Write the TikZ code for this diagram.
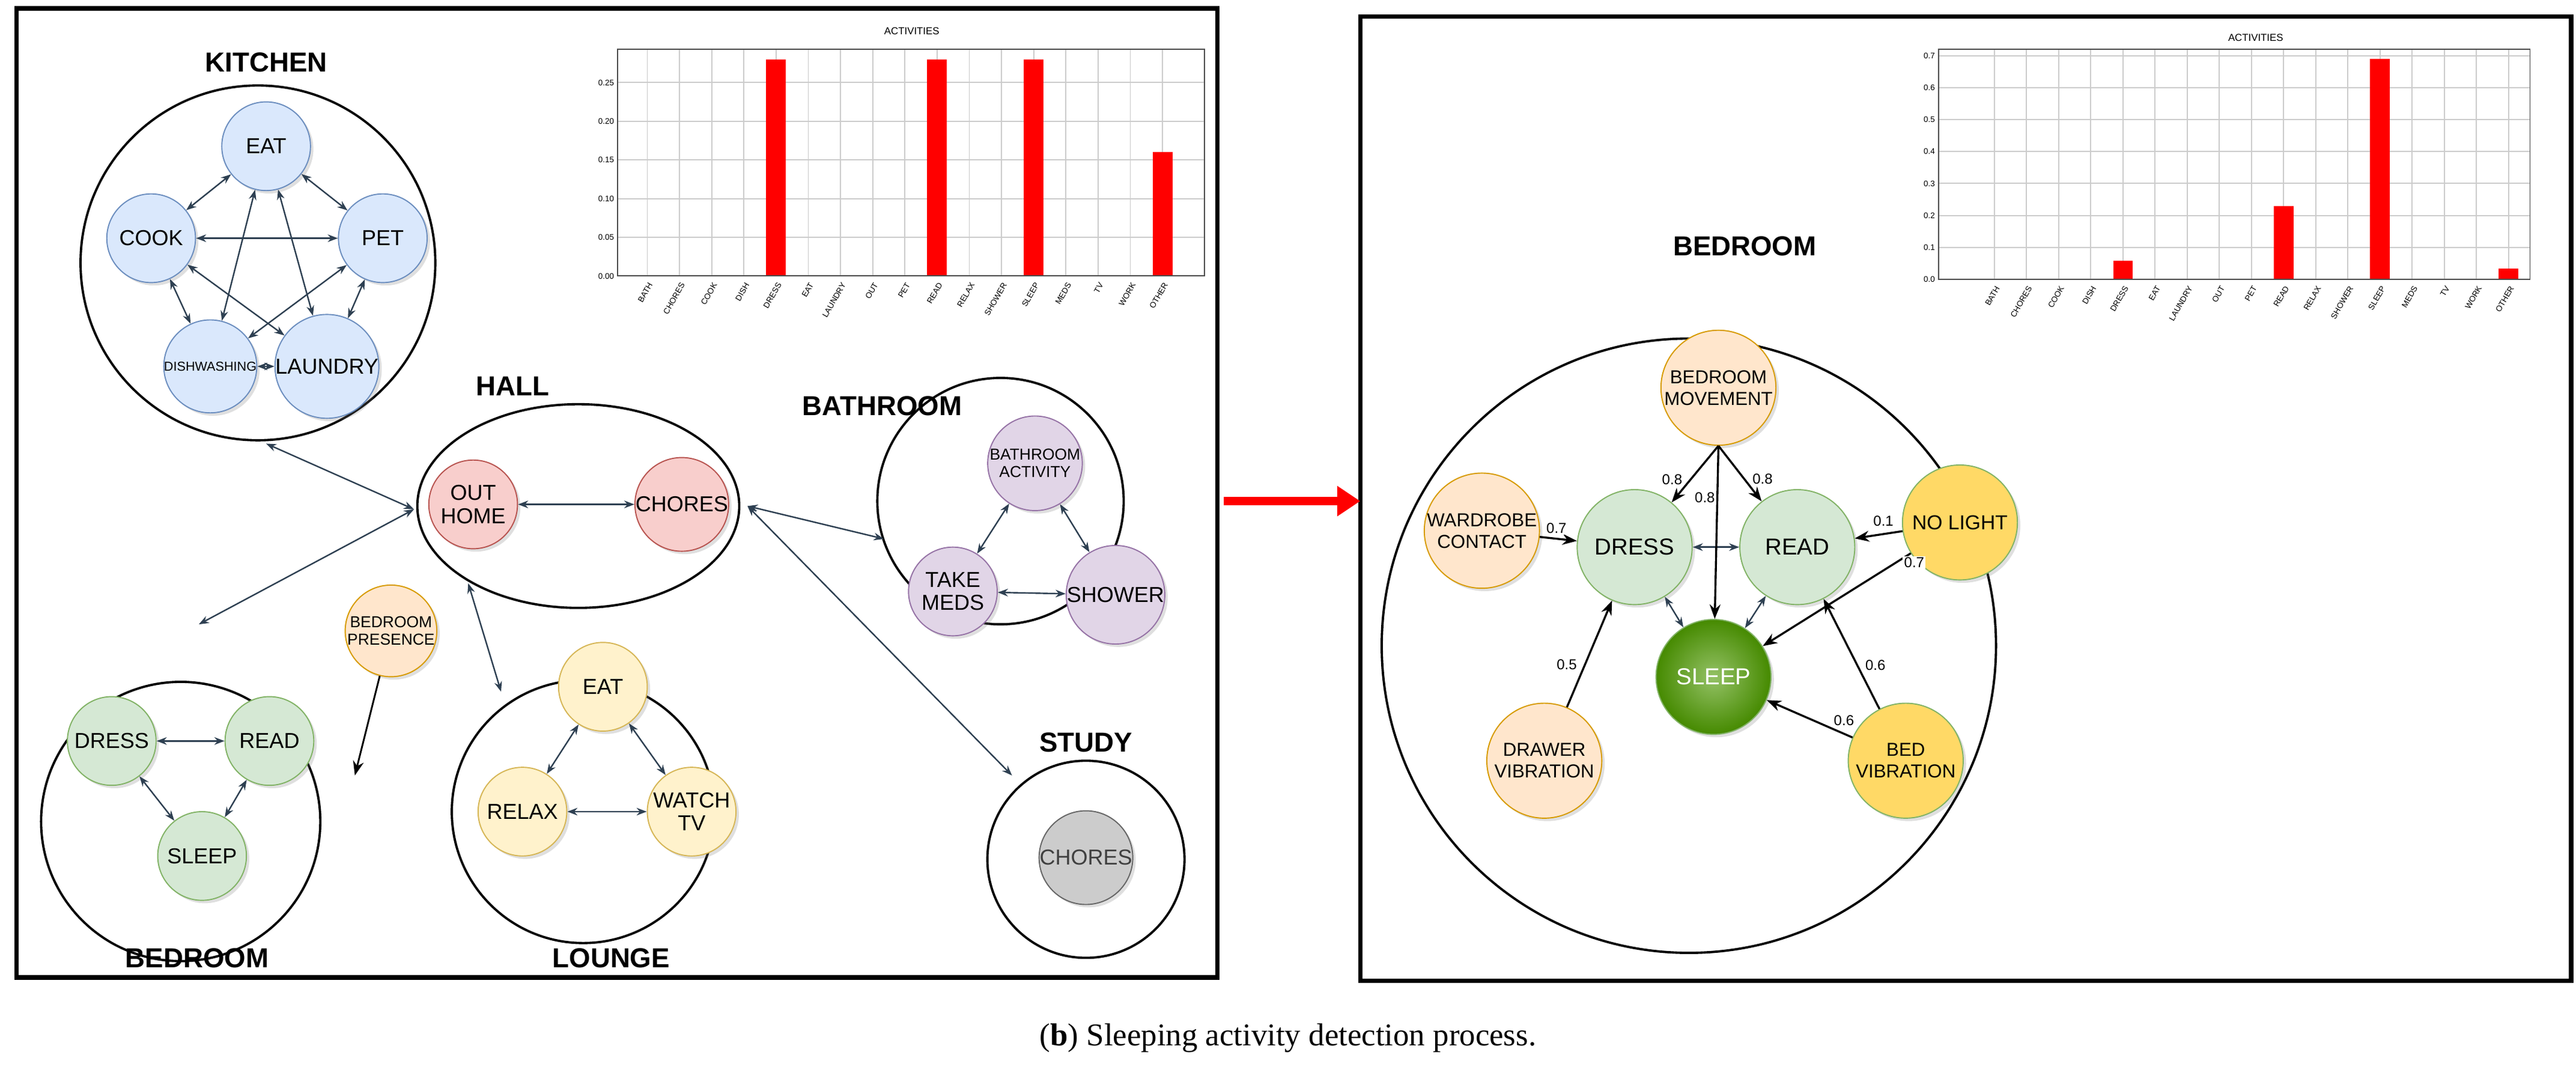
\documentclass[tikz,border=0pt]{standalone}
\usepackage{fontspec}
\setmainfont{Liberation Sans}
\newfontfamily\capfont{Liberation Serif}
\usetikzlibrary{arrows.meta,shadows,positioning,shapes.geometric}
\definecolor{slate}{rgb}{0.18,0.25,0.32}
\definecolor{kfill}{HTML}{DAE8FC}\definecolor{kline}{HTML}{6C8EBF}
\definecolor{hfill}{HTML}{F8CECC}\definecolor{hline}{HTML}{B85450}
\definecolor{pfill}{HTML}{E1D5E7}\definecolor{pline}{HTML}{9673A6}
\definecolor{gfill}{HTML}{D5E8D4}\definecolor{gline}{HTML}{82B366}
\definecolor{ofill}{HTML}{FFE6CC}\definecolor{oline}{HTML}{D79B00}
\definecolor{yfill}{HTML}{FFF2CC}\definecolor{yline}{HTML}{D6B656}
\definecolor{ydark}{HTML}{FFD966}
\definecolor{sfill}{HTML}{4D9900}
\tikzset{
  room/.style={draw,circle,line width=0.8pt},
  title/.style={font=\bfseries\fontsize{9.5}{10}\selectfont},
  act/.style={circle,draw,minimum size=1.08cm,inner sep=0pt,align=center,
    font=\fontsize{7.5}{8}\selectfont,drop shadow={opacity=0.25,shadow xshift=1pt,shadow yshift=-1pt}},
  big/.style={act,minimum size=1.4cm,font=\fontsize{6.5}{7.5}\selectfont},
  link/.style={{Stealth[length=3.5pt]}-{Stealth[length=3.5pt]},slate,line width=0.5pt},
  cause/.style={-{Stealth[length=5pt]},black,line width=0.7pt},
  wt/.style={font=\fontsize{5}{6}\selectfont,fill=white,inner sep=0.5pt},
  tick/.style={font=\fontsize{2.8}{3}\selectfont,inner sep=0.5pt},
}
\begin{document}
\begin{tikzpicture}[x=0.02cm,y=-0.02cm]
  \useasboundingbox (0,0) rectangle (1568,653);
  % frames
  \draw[line width=1.6pt] (10,5) rectangle (741,595);
  \draw[line width=1.6pt] (828,10) rectangle (1565,597);
  \draw[red,line width=3pt,-{Triangle[length=8pt,width=10pt]}] (745,305) -- (828,305);
  \node at (784,632) {\capfont\fontsize{11}{12}\selectfont(\textbf{b}) Sleeping activity detection process.};

  % left histogram
  \node[font=\fontsize{3.5}{4}\selectfont] at (555,19) {ACTIVITIES};
  \foreach \v/\l in {0/0.00,0.05/0.05,0.10/0.10,0.15/0.15,0.20/0.20,0.25/0.25}
    {\draw[black!20] (376,168-471*\v) -- (733,168-471*\v);
     \node[tick,anchor=east] at (375,168-471*\v) {\l};}
  \foreach \n [count=\i from 0] in {BATH,CHORES,COOK,DISH,DRESS,EAT,LAUNDRY,OUT,PET,READ,RELAX,SHOWER,SLEEP,MEDS,TV,WORK,OTHER}
    {\draw[black!20] (394+19.6*\i,30) -- (394+19.6*\i,168);
     \node[tick,anchor=north east,rotate=60] at (394+19.6*\i,170) {\n};}
  \foreach \i/\v in {4/0.28,9/0.28,12/0.28,16/0.16}
    \fill[red] (388+19.6*\i,168) rectangle (400+19.6*\i,168-471*\v);
  \draw[black!70,line width=0.4pt] (376,30) rectangle (733,168);

  % right histogram
  \node[font=\fontsize{3.5}{4}\selectfont] at (1373,23) {ACTIVITIES};
  \foreach \v in {0.0,0.1,0.2,0.3,0.4,0.5,0.6,0.7}
    {\draw[black!20] (1180,170-194.4*\v) -- (1540,170-194.4*\v);
     \node[tick,anchor=east] at (1179,170-194.4*\v) {\v};}
  \foreach \n [count=\i from 0] in {BATH,CHORES,COOK,DISH,DRESS,EAT,LAUNDRY,OUT,PET,READ,RELAX,SHOWER,SLEEP,MEDS,TV,WORK,OTHER}
    {\draw[black!20] (1214+19.56*\i,30) -- (1214+19.56*\i,170);
     \node[tick,anchor=north east,rotate=60] at (1214+19.56*\i,172) {\n};}
  \foreach \i/\v in {4/0.058,9/0.23,12/0.69,16/0.033}
    \fill[red] (1208+19.56*\i,170) rectangle (1220+19.56*\i,170-194.4*\v);
  \draw[black!70,line width=0.4pt] (1180,30) rectangle (1540,170);

  % kitchen
  \node[room,minimum size=4.32cm] (kitchen) at (157,160) {};
  \node[title] at (162,38) {KITCHEN};
  \node[act,fill=kfill,draw=kline] (kEat) at (162,89) {EAT};
  \node[act,fill=kfill,draw=kline] (kCook) at (92,145) {COOK};
  \node[act,fill=kfill,draw=kline] (kPet) at (233,145) {PET};
  \node[act,fill=kfill,draw=kline,font=\fontsize{4.5}{5}\selectfont] (kDish) at (128,223) {DISHWASHING};
  \node[act,fill=kfill,draw=kline] (kLaundry) at (199,223) {LAUNDRY};
  \foreach \a/\b in {kEat/kCook,kEat/kPet,kEat/kDish,kEat/kLaundry,kCook/kPet,kCook/kDish,kCook/kLaundry,kPet/kDish,kPet/kLaundry,kDish/kLaundry}
    \draw[link] (\a) -- (\b);

  % hall
  \node[room,ellipse,minimum width=3.92cm,minimum height=2.48cm] (hall) at (352,308) {};
  \node[title] at (312,235) {HALL};
  \node[act,fill=hfill,draw=hline] (hOut) at (288,307) {OUT\\HOME};
  \node[act,fill=hfill,draw=hline] (hChores) at (415,307) {CHORES};
  \draw[link] (hOut) -- (hChores);

  % bathroom
  \node[room,minimum size=3cm] (bath) at (609,305) {};
  \node[title] at (537,247) {BATHROOM};
  \node[act,fill=pfill,draw=pline,font=\fontsize{5.5}{6}\selectfont] (bAct) at (630,282) {BATHROOM\\ACTIVITY};
  \node[act,fill=pfill,draw=pline] (bMeds) at (580,360) {TAKE\\MEDS};
  \node[act,fill=pfill,draw=pline] (bShower) at (679,362) {SHOWER};
  \draw[link] (bAct) -- (bMeds);
  \draw[link] (bAct) -- (bShower);
  \draw[link] (bMeds) -- (bShower);

  % bedroom
  \node[room,minimum size=3.4cm] (bed) at (110,500) {};
  \node[title] at (120,583) {BEDROOM};
  \node[act,fill=gfill,draw=gline] (bdDress) at (68,451) {DRESS};
  \node[act,fill=gfill,draw=gline] (bdRead) at (164,451) {READ};
  \node[act,fill=gfill,draw=gline] (bdSleep) at (123,521) {SLEEP};
  \draw[link] (bdDress) -- (bdRead);
  \draw[link] (bdDress) -- (bdSleep);
  \draw[link] (bdRead) -- (bdSleep);
  \node[act,fill=ofill,draw=oline,font=\fontsize{5.5}{6}\selectfont] (presence) at (238,384) {BEDROOM\\PRESENCE};
  \coordinate (bedIn) at (216,472);
  \draw[cause,line width=0.6pt] (presence) -- (bedIn);

  % lounge
  \node[room,minimum size=3.2cm] (lounge) at (355,494) {};
  \node[title] at (372,583) {LOUNGE};
  \node[act,fill=yfill,draw=yline] (lEat) at (367,418) {EAT};
  \node[act,fill=yfill,draw=yline] (lRelax) at (318,494) {RELAX};
  \node[act,fill=yfill,draw=yline] (lTv) at (421,494) {WATCH\\TV};
  \draw[link] (lEat) -- (lRelax);
  \draw[link] (lEat) -- (lTv);
  \draw[link] (lRelax) -- (lTv);

  % study
  \node[room,minimum size=2.4cm] (study) at (661,523) {};
  \node[title] at (661,452) {STUDY};
  \node[act,fill=black!20,draw=black!60,text=black!75] (sChores) at (661,522) {CHORES};

  % rooms
  \coordinate (kitOut) at (162,270);
  \coordinate (bedOut) at (121,380);
  \coordinate (hallL) at (252,310);
  \coordinate (hallS) at (285,355);
  \coordinate (louOut) at (305,421);
  \coordinate (hallR) at (455,308);
  \coordinate (bathOut) at (538,328);
  \coordinate (studyOut) at (616,472);
  \draw[link] (hallL) -- (kitOut);
  \draw[link] (hallL) -- (bedOut);
  \draw[link] (hallS) -- (louOut);
  \draw[link] (hallR) -- (bathOut);
  \draw[link] (hallR) -- (studyOut);

  % bedroom detail
  \node[room,minimum size=7.48cm] (room) at (1028,393) {};
  \node[title] at (1062,150) {BEDROOM};
  \node[big,fill=ofill,draw=oline] (move) at (1046,236) {BEDROOM\\MOVEMENT};
  \node[big,fill=ofill,draw=oline] (wardrobe) at (902,323) {WARDROBE\\CONTACT};
  \node[big,fill=gfill,draw=gline,font=\fontsize{8}{9}\selectfont] (dress) at (995,333) {DRESS};
  \node[big,fill=gfill,draw=gline,font=\fontsize{8}{9}\selectfont] (read) at (1094,333) {READ};
  \node[big,fill=ydark,draw=gline,font=\fontsize{7}{8}\selectfont] (light) at (1193,318) {NO LIGHT};
  \node[big,inner color=sfill!60,outer color=sfill!90!black,draw=gline,text=white,font=\fontsize{8}{9}\selectfont] (sleep) at (1043,412) {SLEEP};
  \node[big,fill=ofill,draw=oline] (drawer) at (940,463) {DRAWER\\VIBRATION};
  \node[big,fill=ydark,draw=gline] (bedvib) at (1160,463) {BED\\VIBRATION};
  \draw[link] (dress) -- (read);
  \draw[link] (dress) -- (sleep);
  \draw[link] (read) -- (sleep);
  \draw[cause] (move.south) -- node[wt,pos=0.6,left=2pt] {0.8} (dress);
  \draw[cause] (move.south) -- node[wt,pos=0.3,left=0pt] {0.8} (sleep);
  \draw[cause] (move.south) -- node[wt,pos=0.6,right=2pt] {0.8} (read);
  \draw[cause] (wardrobe) -- node[wt,pos=0.45,above=1pt] {0.7} (dress);
  \draw[cause] (light) -- node[wt,pos=0.4,above=2pt] {0.1} (read);
  \draw[cause] (light) -- node[wt,pos=0.1,right=2pt] {0.7} (sleep);
  \draw[cause] (drawer) -- node[wt,pos=0.4,left=2pt] {0.5} (dress);
  \draw[cause] (bedvib) -- node[wt,pos=0.4,right=2pt] {0.6} (read);
  \draw[cause] (bedvib) -- node[wt,pos=0.1,above=2pt] {0.6} (sleep);
\end{tikzpicture}
\end{document}
